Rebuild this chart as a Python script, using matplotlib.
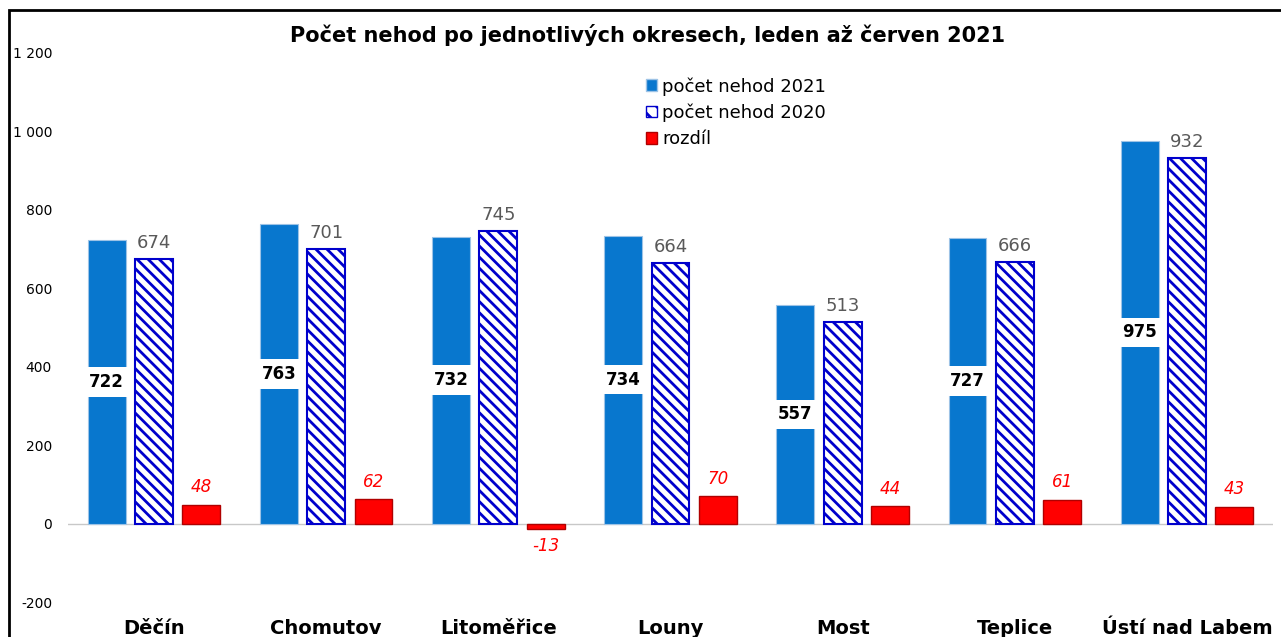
import matplotlib
matplotlib.use("Agg")
import matplotlib.pyplot as plt
import matplotlib.patches as mpatches
from matplotlib.ticker import FuncFormatter
import numpy as np

categories = ["Děčín", "Chomutov", "Litoměřice", "Louny", "Most", "Teplice", "Ústí nad Labem"]
nehody_2021 = [722, 763, 732, 734, 557, 727, 975]
nehody_2020 = [674, 701, 745, 664, 513, 666, 932]
rozdil = [48, 62, -13, 70, 44, 61, 43]
yticks = [-200, 0, 200, 400, 600, 800, 1000, 1200]

plt.rcParams['font.family'] = ['DejaVu Sans']
plt.rcParams['hatch.linewidth'] = 2.0

W, H = 1281, 637
fig = plt.figure(figsize=(W / 100, H / 100), dpi=100)
ax = fig.add_axes([68 / W, 1 - 602 / H, 1205 / W, (602 - 53) / H])

x = np.arange(len(categories))
bw = 0.22
off = 0.275
blue = "#0877CE"

ax.bar(x - off, nehody_2021, bw, color=blue, edgecolor="#9DC3E6", linewidth=0.8, zorder=3)
ax.bar(x, nehody_2020, bw, color="white", edgecolor="#0000CC", hatch="\\\\\\", linewidth=1.5, zorder=3)
ax.bar(x + off, rozdil, bw, color="#FF0000", edgecolor="#B00000", linewidth=1.0, zorder=3)

ax.axhline(0, color="#C8C8C8", linewidth=1.0, zorder=2)
ax.set_xlim(-0.5, len(categories) - 0.5)
ax.set_ylim(-200, 1200)
ax.set_yticks(yticks)
ax.yaxis.set_major_formatter(FuncFormatter(lambda v, p: f"{int(v):,}".replace(",", " ")))
ax.tick_params(axis="y", length=0, pad=11.5, labelsize=10)
ax.set_xticks(x)
ax.set_xticklabels(categories, fontsize=14, fontweight="bold")
ax.tick_params(axis="x", length=0, pad=12)
for s in ax.spines.values():
    s.set_visible(False)

for xi, v in zip(x, nehody_2021):
    ax.text(xi - off, v / 2, str(v), ha="center", va="center", fontsize=12, fontweight="bold",
            color="black", zorder=5,
            bbox=dict(facecolor="white", edgecolor="none", boxstyle="square,pad=0.35"))
for xi, v in zip(x, nehody_2020):
    ax.annotate(str(v), (xi, v), xytext=(0, 5), textcoords="offset points", ha="center", va="bottom",
                fontsize=13, color="#595959", zorder=5)
for xi, v in zip(x, rozdil):
    if v >= 0:
        ax.annotate(str(v), (xi + off, v), xytext=(0, 6), textcoords="offset points", ha="center",
                    va="bottom", fontsize=12, color="#FF0000", style="italic", zorder=5)
    else:
        ax.annotate(str(v), (xi + off, v), xytext=(0, -6), textcoords="offset points", ha="center",
                    va="top", fontsize=12, color="#FF0000", style="italic", zorder=5)

fig.text(648 / W, 1 - 35 / H, "Počet nehod po jednotlivých okresech, leden až červen 2021",
         ha="center", va="center", fontsize=15, fontweight="bold")

handles = [
    mpatches.Patch(facecolor=blue, edgecolor="#9DC3E6", label="počet nehod 2021"),
    mpatches.Patch(facecolor="white", edgecolor="#0000CC", hatch="\\\\", label="počet nehod 2020"),
    mpatches.Patch(facecolor="#FF0000", edgecolor="#B00000", label="rozdíl"),
]
fig.legend(handles=handles, loc="upper left", bbox_to_anchor=(646 / W, 1 - 77 / H), frameon=False,
           fontsize=13, handlelength=0.6, handleheight=0.6, handletextpad=0.3, labelspacing=0.45,
           borderaxespad=0, borderpad=0)

# outer chart border (left and top visible)
fig.add_artist(mpatches.Rectangle((8.5 / W, -0.1), 1.2, 1 - 10 / H + 0.1, transform=fig.transFigure,
                                  fill=False, edgecolor="black", linewidth=2.0))

fig.savefig("out.png", dpi=100)
